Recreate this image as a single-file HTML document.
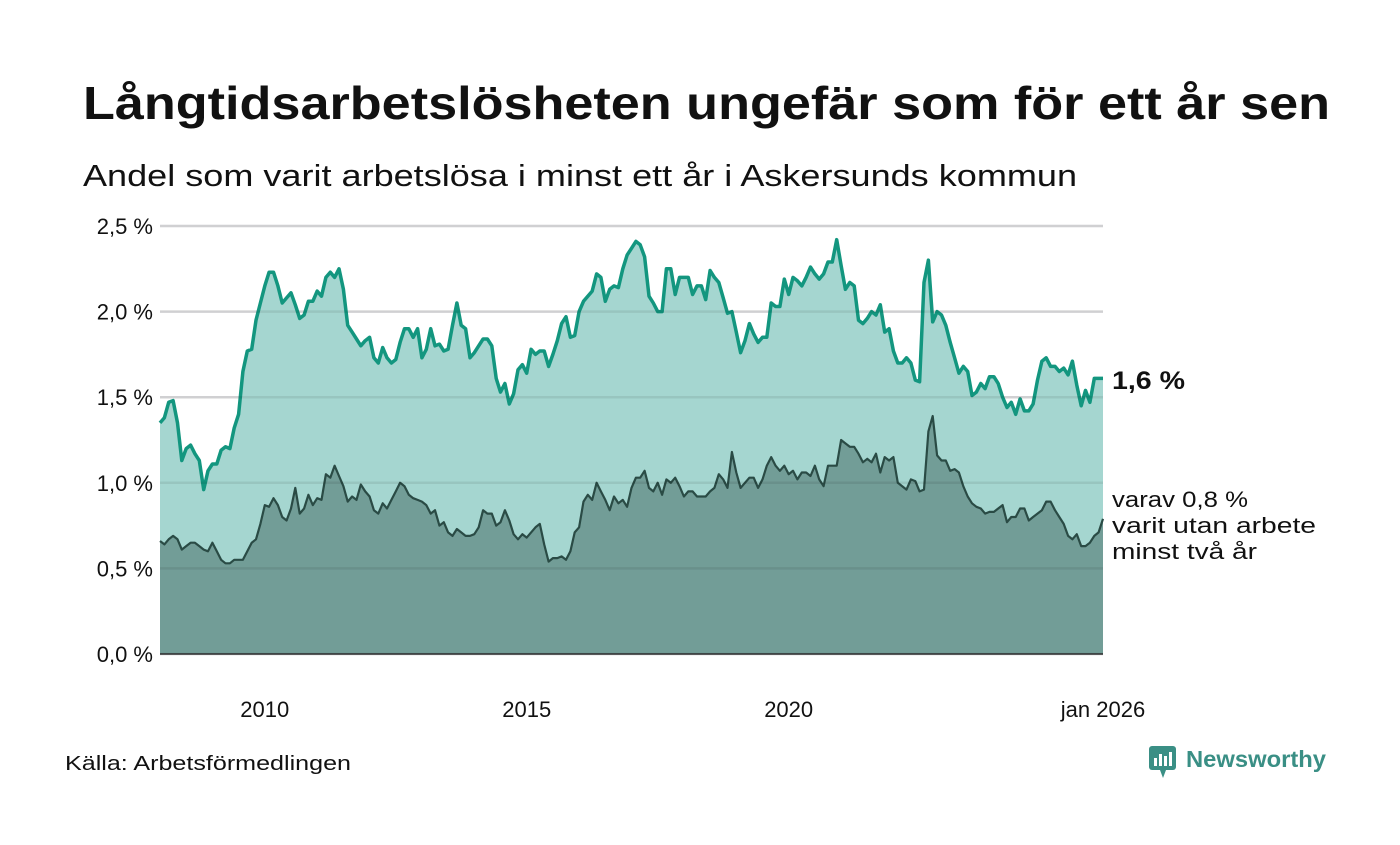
<!DOCTYPE html>
<html><head><meta charset="utf-8"><style>
body{margin:0;background:#fff;width:1400px;height:840px;overflow:hidden;font-family:"Liberation Sans",sans-serif}
</style></head><body>
<svg width="1400" height="840" xmlns="http://www.w3.org/2000/svg">
<text x="83" y="119" font-size="46" font-weight="bold" fill="#111" textLength="1247" lengthAdjust="spacingAndGlyphs">Långtidsarbetslösheten ungefär som för ett år sen</text>
<text x="83" y="186" font-size="31" fill="#111" textLength="994" lengthAdjust="spacingAndGlyphs">Andel som varit arbetslösa i minst ett år i Askersunds kommun</text>
<g id="grid-top"></g>
<g id="marks"></g>
<g id="grid-over"></g>
<g id="labels"></g>
<text x="1112" y="389" font-size="25" font-weight="bold" fill="#111" textLength="73" lengthAdjust="spacingAndGlyphs">1,6 %</text>
<text font-size="22" fill="#111"><tspan x="1112" y="507" textLength="136" lengthAdjust="spacingAndGlyphs">varav 0,8 %</tspan><tspan x="1112" y="533" textLength="204" lengthAdjust="spacingAndGlyphs">varit utan arbete</tspan><tspan x="1112" y="559" textLength="145" lengthAdjust="spacingAndGlyphs">minst två år</tspan></text>
<text x="65" y="770" font-size="20" fill="#111" textLength="286" lengthAdjust="spacingAndGlyphs">Källa: Arbetsförmedlingen</text>
<g>
<rect x="1149" y="746" width="27" height="24" rx="3" fill="#3a8f85"/>
<polygon points="1160,770 1166,770 1163,778" fill="#3a8f85"/>
<rect x="1154" y="758" width="3" height="8" fill="#fff"/><rect x="1159" y="754" width="3" height="12" fill="#fff"/><rect x="1164" y="756" width="3" height="10" fill="#fff"/><rect x="1169" y="752" width="3" height="14" fill="#fff"/>
<text x="1186" y="767" font-size="23" font-weight="bold" fill="#3a8f85" textLength="140" lengthAdjust="spacingAndGlyphs">Newsworthy</text>
</g>
</svg>
<script>
const total=[1.35,1.38,1.47,1.48,1.35,1.13,1.2,1.22,1.17,1.13,0.96,1.07,
1.11,1.11,1.19,1.21,1.2,1.32,1.4,1.65,1.77,1.78,1.95,2.05,
2.15,2.23,2.23,2.15,2.05,2.08,2.11,2.04,1.96,1.98,2.06,2.06,
2.12,2.09,2.2,2.23,2.2,2.25,2.13,1.92,1.88,1.84,1.8,1.83,
1.85,1.73,1.7,1.79,1.73,1.7,1.72,1.82,1.9,1.9,1.85,1.9,
1.73,1.78,1.9,1.8,1.81,1.77,1.78,1.92,2.05,1.92,1.9,1.73,
1.76,1.8,1.84,1.84,1.8,1.61,1.53,1.58,1.46,1.52,1.66,1.69,
1.64,1.78,1.75,1.77,1.77,1.68,1.75,1.83,1.93,1.97,1.85,1.86,
2.0,2.06,2.09,2.12,2.22,2.2,2.06,2.13,2.15,2.14,2.25,2.33,
2.37,2.41,2.39,2.32,2.09,2.05,2.0,2.0,2.25,2.25,2.1,2.2,
2.2,2.2,2.1,2.15,2.15,2.07,2.24,2.2,2.17,2.08,1.99,2.0,
1.88,1.76,1.83,1.93,1.87,1.82,1.85,1.85,2.05,2.03,2.03,2.19,
2.1,2.2,2.18,2.15,2.2,2.26,2.22,2.19,2.22,2.29,2.29,2.42,
2.27,2.13,2.17,2.15,1.95,1.93,1.96,2.0,1.98,2.04,1.88,1.9,
1.77,1.7,1.7,1.73,1.7,1.6,1.59,2.17,2.3,1.94,2.0,1.98,
1.92,1.82,1.73,1.64,1.68,1.65,1.51,1.53,1.58,1.55,1.62,1.62,
1.58,1.5,1.44,1.47,1.4,1.49,1.42,1.42,1.46,1.6,1.71,1.73,
1.68,1.68,1.65,1.67,1.63,1.71,1.57,1.45,1.54,1.47,1.61,1.61,
1.61];
const sub=[0.66,0.64,0.67,0.69,0.67,0.61,0.63,0.65,0.65,0.63,0.61,0.6,
0.65,0.6,0.55,0.53,0.53,0.55,0.55,0.55,0.6,0.65,0.67,0.76,
0.87,0.86,0.91,0.87,0.8,0.78,0.85,0.97,0.82,0.85,0.93,0.87,
0.91,0.9,1.05,1.03,1.1,1.04,0.98,0.89,0.92,0.9,0.99,0.95,
0.92,0.84,0.82,0.88,0.85,0.9,0.95,1.0,0.98,0.93,0.91,0.9,
0.89,0.87,0.82,0.84,0.75,0.77,0.71,0.69,0.73,0.71,0.69,0.69,
0.7,0.74,0.84,0.82,0.82,0.75,0.77,0.84,0.78,0.7,0.67,0.7,
0.68,0.71,0.74,0.76,0.64,0.54,0.56,0.56,0.57,0.55,0.6,0.71,
0.74,0.89,0.93,0.9,1.0,0.95,0.9,0.84,0.92,0.88,0.9,0.86,
0.97,1.03,1.03,1.07,0.97,0.95,1.0,0.93,1.02,1.0,1.03,0.98,
0.92,0.95,0.95,0.92,0.92,0.92,0.95,0.97,1.05,1.02,0.97,1.18,
1.06,0.97,1.0,1.03,1.03,0.97,1.02,1.1,1.15,1.1,1.07,1.1,
1.05,1.07,1.02,1.06,1.06,1.04,1.1,1.02,0.98,1.1,1.1,1.1,
1.25,1.23,1.21,1.21,1.17,1.12,1.14,1.12,1.17,1.06,1.15,1.13,
1.15,1.0,0.98,0.96,1.02,1.01,0.95,0.96,1.3,1.39,1.16,1.13,
1.13,1.07,1.08,1.06,0.98,0.92,0.88,0.86,0.85,0.82,0.83,0.83,
0.85,0.87,0.77,0.8,0.8,0.85,0.85,0.78,0.8,0.82,0.84,0.89,
0.89,0.84,0.8,0.76,0.69,0.67,0.7,0.63,0.63,0.65,0.69,0.71,
0.79];
const yTicks=[0,0.5,1,1.5,2,2.5];
const yTickLabels=["0,0 %","0,5 %","1,0 %","1,5 %","2,0 %","2,5 %"];
const xTickMonths=[24,84,144,216];
const xTickLabels=["2010","2015","2020","jan 2026"];
const NS="http://www.w3.org/2000/svg";
const X0=160,X1=1103,Y0=654,Y1=226;
const n=total.length;
const xs=i=>X0+(X1-X0)*i/(n-1);
const ys=v=>Y0-(Y0-Y1)*v/2.5;
function mk(tag,attrs,parent){const e=document.createElementNS(NS,tag);for(const k in attrs)e.setAttribute(k,attrs[k]);parent.appendChild(e);return e;}
const gt=document.getElementById('grid-top'),gm=document.getElementById('marks'),go=document.getElementById('grid-over'),gl=document.getElementById('labels');
yTicks.forEach((t,i)=>{
 const l=mk('line',{x1:X0,x2:X1,y1:ys(t),y2:ys(t),stroke:'#e2e2e4','stroke-width':2.5},gt);
 
 
 const l2=mk('line',{x1:X0,x2:X1,y1:ys(t),y2:ys(t),stroke:'rgba(0,0,0,0.08)','stroke-width':2.5},go);
 
 
 const tx=mk('text',{x:153,y:ys(t)+8,'font-size':22,'text-anchor':'end',fill:'#111'},gl);
 tx.textContent=yTickLabels[i];
 
 
});
xTickMonths.forEach((m,i)=>{
 const tx=mk('text',{x:xs(m),y:717,'font-size':22,'text-anchor':'middle',fill:'#111'},gl);
 tx.textContent=xTickLabels[i];
 
 
});
function pts(arr){return arr.map((v,i)=>xs(i).toFixed(1)+','+ys(v).toFixed(1)).join(' ');}
const a1=mk('polygon',{points:X0+','+Y0+' '+pts(total)+' '+X1+','+Y0,fill:'#a5d6d0'},gm);


const a2=mk('polygon',{points:X0+','+Y0+' '+pts(sub)+' '+X1+','+Y0,fill:'#729d97'},gm);


const l1=mk('polyline',{points:pts(total),fill:'none',stroke:'#13967f','stroke-width':3.5,'stroke-linejoin':'round'},gm);


const l2=mk('polyline',{points:pts(sub),fill:'none',stroke:'#2a4b45','stroke-width':2.2,'stroke-linejoin':'round'},gm);


const base=mk('line',{x1:X0,x2:X1,y1:Y0,y2:Y0,stroke:'#333','stroke-width':1.5},gm);


</script>
</body></html>
